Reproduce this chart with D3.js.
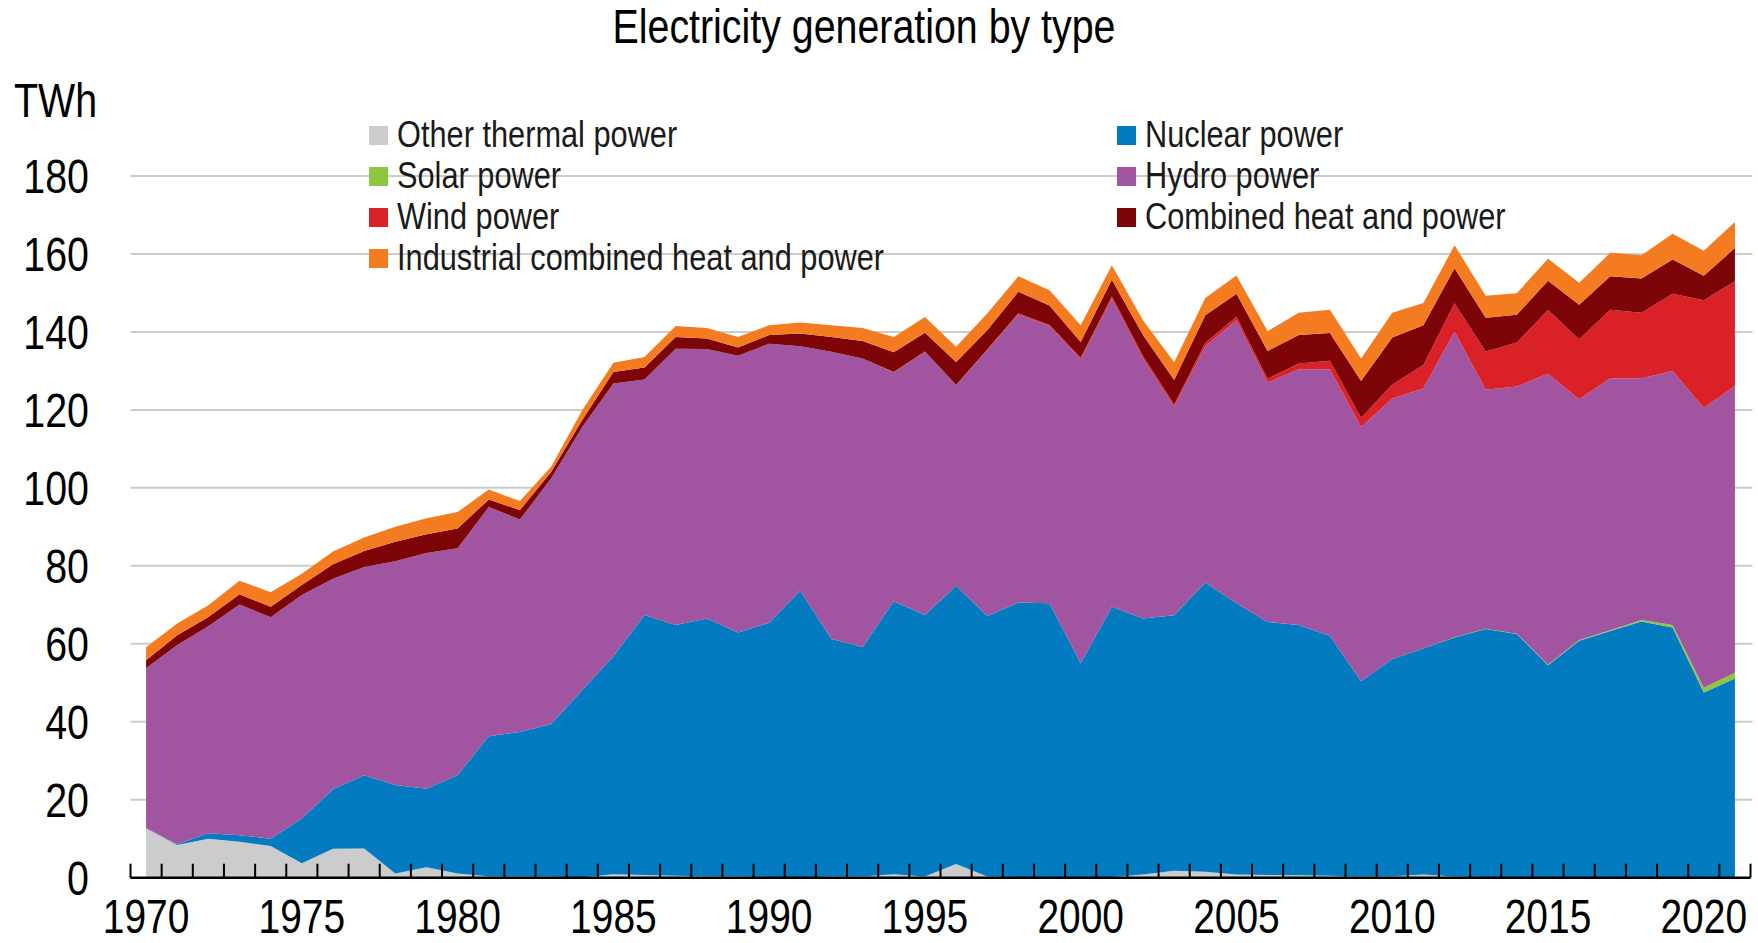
<!DOCTYPE html>
<html>
<head>
<meta charset="utf-8">
<script src="https://cdn.jsdelivr.net/npm/d3@7"></script>
<style>
  body { margin: 0; background: #ffffff; }
  svg text { font-family: "Liberation Sans", Arial, sans-serif; fill: #000000; }
</style>
</head>
<body>
<div id="chart"></div>
<script>
var wd = 1758;
var ht = 943;

var years = [1970, 1971, 1972, 1973, 1974, 1975, 1976, 1977, 1978, 1979,
             1980, 1981, 1982, 1983, 1984, 1985, 1986, 1987, 1988, 1989,
             1990, 1991, 1992, 1993, 1994, 1995, 1996, 1997, 1998, 1999,
             2000, 2001, 2002, 2003, 2004, 2005, 2006, 2007, 2008, 2009,
             2010, 2011, 2012, 2013, 2014, 2015, 2016, 2017, 2018, 2019,
             2020, 2021];

// TWh per year
var otherThermal = [12.7, 8.4, 10.0, 9.2, 8.1, 3.7, 7.4, 7.5, 1.1, 2.7,
                    1.1, 0.4, 0.3, 0.3, 0.1, 0.9, 0.7, 0.5, 0.4, 0.3,
                    0.2, 0.2, 0.3, 0.3, 0.9, 0.3, 3.5, 0.3, 0.2, 0.2,
                    0.1, 0.2, 0.8, 1.8, 1.5, 0.8, 0.7, 0.6, 0.5, 0.3,
                    0.4, 0.8, 0.3, 0.2, 0.2, 0.2, 0.2, 0.2, 0.2, 0.2,
                    0.2, 0.2];
var nuclear = [0.0, 0.2, 1.4, 1.7, 1.9, 11.5, 15.3, 18.8, 22.7, 20.1,
               25.2, 35.9, 37.1, 39.1, 48.0, 55.9, 66.7, 64.3, 66.1, 62.6,
               65.2, 73.4, 60.9, 58.9, 70.0, 67.1, 71.4, 66.8, 70.4, 70.2,
               54.9, 69.3, 65.7, 65.5, 74.2, 69.6, 64.9, 64.2, 61.5, 50.1,
               55.7, 58.0, 61.3, 63.6, 62.3, 54.3, 60.6, 63.1, 65.5, 64.0,
               47.3, 50.9];
var solar = [0, 0, 0, 0, 0, 0, 0, 0, 0, 0,
             0, 0, 0, 0, 0, 0, 0, 0, 0, 0,
             0, 0, 0, 0, 0, 0, 0, 0, 0, 0,
             0, 0, 0, 0, 0, 0, 0, 0, 0, 0,
             0, 0, 0.05, 0.05, 0.1, 0.1, 0.2, 0.2, 0.4, 0.6,
             1.2, 1.5];
var hydro = [41.0, 51.1, 53.1, 59.2, 56.8, 57.3, 54.0, 53.4, 57.4, 60.5,
             58.2, 58.8, 54.5, 63.0, 67.5, 70.0, 60.4, 70.9, 69.1, 71.0,
             71.6, 62.7, 73.7, 74.0, 58.7, 67.5, 51.4, 68.2, 73.9, 71.1,
             78.0, 79.1, 66.7, 53.5, 60.6, 72.6, 61.4, 65.6, 68.4, 65.2,
             66.8, 66.7, 78.4, 61.3, 63.4, 74.7, 61.7, 64.6, 62.0, 65.2,
             71.8, 73.5];
var wind = [0, 0, 0, 0, 0, 0, 0, 0, 0, 0,
            0, 0, 0, 0, 0, 0, 0, 0, 0, 0,
            0, 0, 0, 0, 0.1, 0.1, 0.1, 0.2, 0.3, 0.3,
            0.4, 0.5, 0.6, 0.6, 0.9, 0.9, 1.0, 1.5, 2.2, 2.4,
            3.6, 6.0, 7.3, 9.8, 11.3, 16.3, 15.4, 17.6, 16.8, 19.8,
            27.6, 26.9];
var chp = [2.1, 2.5, 2.4, 2.6, 2.7, 2.6, 3.7, 4.1, 5.0, 4.8,
           5.1, 1.9, 2.4, 1.7, 1.8, 2.9, 3.1, 3.0, 2.7, 2.1,
           2.2, 3.3, 3.8, 4.5, 5.1, 4.8, 5.9, 4.9, 5.5, 5.0,
           4.0, 4.3, 5.4, 6.3, 7.1, 5.9, 7.1, 7.3, 7.1, 9.4,
           12.1, 10.2, 9.0, 8.7, 7.1, 7.5, 8.9, 8.6, 8.8, 8.8,
           6.3, 8.5];
var industrialChp = [3.3, 3.0, 3.0, 3.5, 3.7, 2.9, 3.3, 3.5, 3.8, 4.1,
                     4.2, 2.6, 2.3, 1.3, 2.5, 2.4, 2.7, 2.8, 2.7, 2.7,
                     2.5, 2.8, 3.0, 3.3, 3.9, 4.0, 3.9, 4.3, 4.0, 3.9,
                     4.3, 3.7, 3.8, 4.5, 4.4, 4.7, 5.1, 5.7, 6.0, 5.8,
                     6.3, 5.7, 5.9, 5.6, 5.5, 5.7, 5.6, 6.0, 6.0, 6.6,
                     6.4, 6.7];

var yTicks = [0, 20, 40, 60, 80, 100, 120, 140, 160, 180];
var xLabels = [1970, 1975, 1980, 1985, 1990, 1995, 2000, 2005, 2010, 2015, 2020];

var seriesNames = ["Other thermal power", "Nuclear power", "Solar power", "Hydro power",
                   "Wind power", "Combined heat and power", "Industrial combined heat and power"];
var seriesKeys = ["other", "nuclear", "solar", "hydro", "wind", "chp", "ichp"];
var seriesColors = ["#cccccc", "#037bc1", "#8dc63f", "#a155a0", "#da2128", "#7d0508", "#f47b20"];

var margin = { top: 176, right: 7.5, bottom: 65, left: 130.5 };
var narrow = 0.82;   // squeeze Liberation Sans to look like Arial Narrow

var table = years.map(function(yr, i) {
  return { year: yr, other: otherThermal[i], nuclear: nuclear[i], solar: solar[i],
           hydro: hydro[i], wind: wind[i], chp: chp[i], ichp: industrialChp[i] };
});

var svg = d3.select("#chart").append("svg").attr("width", wd).attr("height", ht);

function place(x, y) { return "translate(" + x + "," + y + ") scale(" + narrow + ",1)"; }

var xScale = d3.scalePoint().domain(years).range([margin.left, wd - margin.right]).padding(0.5);
var xBand = d3.scaleBand().domain(years).range([margin.left, wd - margin.right]);
var yScale = d3.scaleLinear().domain([0, 180]).range([ht - margin.bottom - 0.3, margin.top]);

// gridlines
svg.append("g").selectAll("line").data(yTicks.slice(1)).enter()
  .append("line")
  .attr("x1", margin.left).attr("x2", wd - margin.right + 2)
  .attr("y1", function(d) { return yScale(d); })
  .attr("y2", function(d) { return yScale(d); })
  .attr("stroke", "#cccccc").attr("stroke-width", 2);

// stacked areas
var stack = d3.stack().keys(seriesKeys);
var layers = stack(table);
var area = d3.area()
  .x(function(d) { return xScale(d.data.year); })
  .y0(function(d) { return yScale(d[0]); })
  .y1(function(d) { return yScale(d[1]); });

svg.append("g").selectAll("path").data(layers).enter()
  .append("path")
  .attr("d", area)
  .attr("fill", function(d, i) { return seriesColors[i]; });

// bottom axis, ticks between categories pointing up
var y0 = yScale(0);
svg.append("line")
  .attr("x1", margin.left).attr("x2", wd - margin.right)
  .attr("y1", y0).attr("y2", y0)
  .attr("stroke", "#000").attr("stroke-width", 2.5);

var edges = years.map(function(yr) { return xBand(yr); }).concat([wd - margin.right]);
svg.append("g").selectAll("line").data(edges).enter()
  .append("line")
  .attr("x1", function(d) { return d; }).attr("x2", function(d) { return d; })
  .attr("y1", y0).attr("y2", y0 - 14)
  .attr("stroke", "#000").attr("stroke-width", 2);

svg.append("g").selectAll("text").data(xLabels).enter()
  .append("text")
  .attr("transform", function(d) { return place(xScale(d), 933); })
  .attr("text-anchor", "middle")
  .style("font-size", "47.5px")
  .text(function(d) { return d; });

// y labels
svg.append("g").selectAll("text").data(yTicks).enter()
  .append("text")
  .attr("transform", function(d) { return place(89, yScale(d) + 17); })
  .attr("text-anchor", "end")
  .style("font-size", "48px")
  .text(function(d) { return d; });

svg.append("text").attr("transform", place(14, 116.5)).style("font-size", "48px").text("TWh");

svg.append("text")
  .attr("transform", place(864, 43))
  .attr("text-anchor", "middle")
  .style("font-size", "48px")
  .text("Electricity generation by type");

// legend, two columns filled row by row
var legend = svg.append("g");
var legItems = legend.selectAll("g").data(seriesNames).enter()
  .append("g")
  .attr("transform", function(d, i) {
    var col = i % 2, row = Math.floor(i / 2);
    return "translate(" + (col === 0 ? 369 : 1117) + "," + (126 + row * 41) + ")";
  });
legItems.append("rect").attr("width", 19).attr("height", 19)
  .attr("fill", function(d, i) { return seriesColors[i]; });
legItems.append("text").attr("transform", place(28, 20.5))
  .style("font-size", "37.5px").style("fill", "#1a1a1a")
  .text(function(d) { return d; });
</script>
</body>
</html>
